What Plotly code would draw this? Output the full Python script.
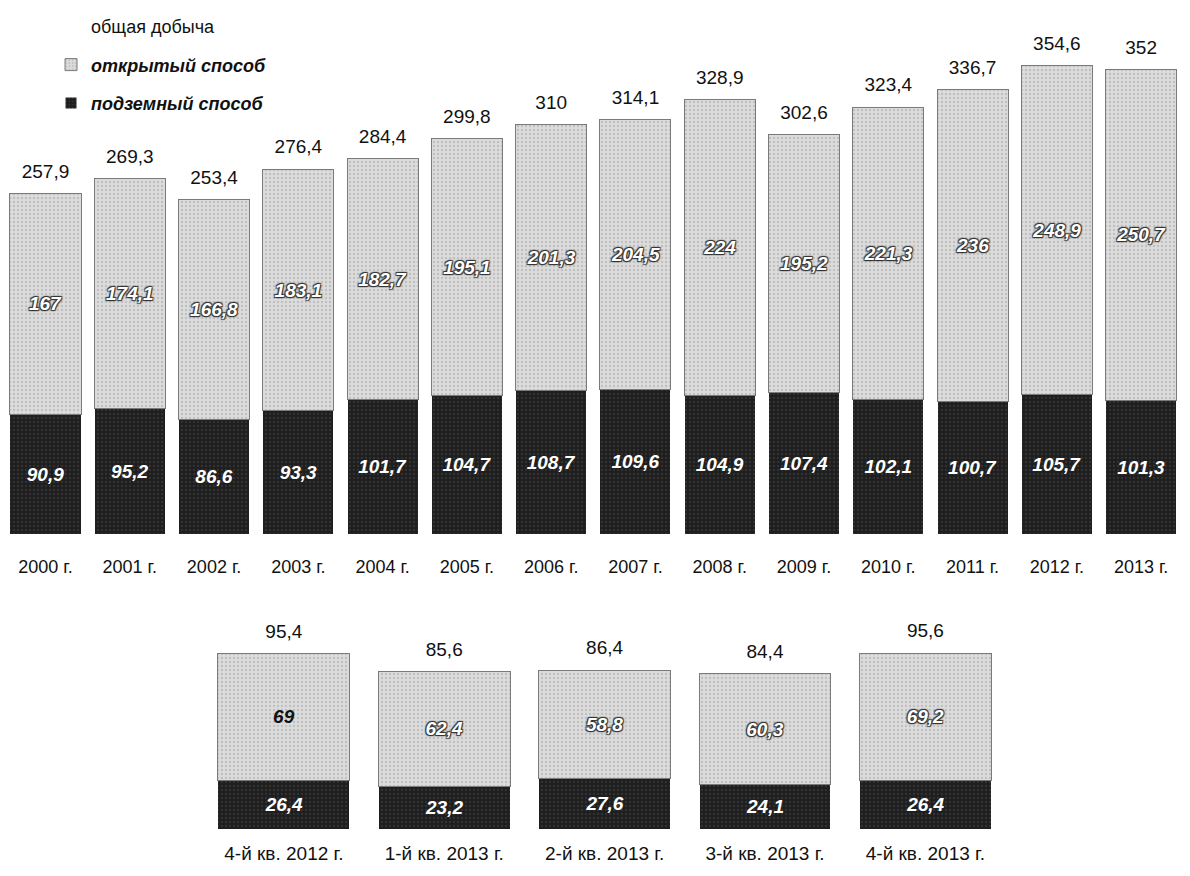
import plotly.graph_objects as go

years = ["2000 г.", "2001 г.", "2002 г.", "2003 г.", "2004 г.", "2005 г.", "2006 г.",
         "2007 г.", "2008 г.", "2009 г.", "2010 г.", "2011 г.", "2012 г.", "2013 г."]
open_years = [167, 174.1, 166.8, 183.1, 182.7, 195.1, 201.3, 204.5, 224, 195.2, 221.3, 236, 248.9, 250.7]
under_years = [90.9, 95.2, 86.6, 93.3, 101.7, 104.7, 108.7, 109.6, 104.9, 107.4, 102.1, 100.7, 105.7, 101.3]
total_years = [257.9, 269.3, 253.4, 276.4, 284.4, 299.8, 310, 314.1, 328.9, 302.6, 323.4, 336.7, 354.6, 352]

quarters = ["4-й кв. 2012 г.", "1-й кв. 2013 г.", "2-й кв. 2013 г.", "3-й кв. 2013 г.", "4-й кв. 2013 г."]
open_q = [69, 62.4, 58.8, 60.3, 69.2]
under_q = [26.4, 23.2, 27.6, 24.1, 26.4]
total_q = [95.4, 85.6, 86.4, 84.4, 95.6]

name_total = "общая добыча"
name_open = "<b><i>открытый способ</i></b>"
name_under = "<b><i>подземный способ</i></b>"

FONT = "Liberation Sans, Arial, sans-serif"
LIGHT = "#d3d3d3"
DARK = "#1e1e1e"

def fmt(v):
    s = ("%.1f" % v).rstrip("0").rstrip(".")
    return s.replace(".", ",")

fig = go.Figure()

def add_set(cats, under, opn, tot, xa, ya, show, bw, open_colors, open_shadows):
    fig.add_trace(go.Bar(
        x=cats, y=under, name=name_under, xaxis=xa, yaxis=ya, width=bw,
        legendgroup="u", legendrank=3, showlegend=show,
        marker=dict(color=DARK, line=dict(color="white", width=1),
                    pattern=dict(shape=".", fgcolor="#484848", bgcolor=DARK, size=4, solidity=0.25)),
        text=[fmt(v) for v in under], textposition="inside", insidetextanchor="middle",
        textangle=0, constraintext="none",
        textfont=dict(family=FONT, size=19, color="white", weight="bold", style="italic"),
        hoverinfo="skip",
    ))
    fig.add_trace(go.Bar(
        x=cats, y=opn, name=name_open, xaxis=xa, yaxis=ya, width=bw,
        legendgroup="o", legendrank=2, showlegend=show,
        marker=dict(color=LIGHT, line=dict(color="#7a7a7a", width=1),
                    pattern=dict(shape=".", fgcolor="#a4a4a4", bgcolor="#dcdcdc", size=4, solidity=0.3)),
        text=[fmt(v) for v in opn], textposition="inside", insidetextanchor="middle",
        textangle=0, constraintext="none",
        textfont=dict(family=FONT, size=19, color=open_colors, weight="bold", style="italic",
                      shadow=open_shadows),
        hoverinfo="skip",
    ))
    fig.add_trace(go.Scatter(
        x=cats, y=tot, name=name_total, xaxis=xa, yaxis=ya,
        legendgroup="t", legendrank=1, showlegend=show,
        mode="markers+text", marker=dict(size=16, color="rgba(0,0,0,0)"),
        text=[fmt(v) for v in tot], textposition="top center", cliponaxis=False,
        textfont=dict(family=FONT, size=19, color="#111"),
        hoverinfo="skip",
    ))

sh = "1px 1px 1px #333, -1px -1px 1px #333, 1px -1px 1px #333, -1px 1px 1px #333"
add_set(years, under_years, open_years, total_years, "x", "y", True, 0.843,
        ["white"] * len(years), [sh] * len(years))
add_set(quarters, under_q, open_q, total_q, "x2", "y2", False, 0.823,
        ["#111"] + ["white"] * 4, ["none"] + [sh] * 4)

fig.update_layout(
    width=1182, height=868,
    margin=dict(l=0, r=0, t=0, b=0),
    paper_bgcolor="white", plot_bgcolor="white",
    barmode="stack",
    font=dict(family=FONT, size=18, color="#111"),
    showlegend=True,
    legend=dict(x=0.0364, y=1.0, xanchor="left", yanchor="top",
                bgcolor="rgba(0,0,0,0)", font=dict(family=FONT, size=18, color="#111"),
                traceorder="grouped", tracegroupgap=12, itemwidth=30),
    xaxis=dict(domain=[0, 1], range=[-0.445, 13.58], showgrid=False, zeroline=False, showline=False,
               ticks="", ticklabelstandoff=20, tickfont=dict(family=FONT, size=18, color="#111"),
               anchor="y", automargin=False),
    yaxis=dict(domain=[0.394, 1.0], range=[0, 398.5], visible=False, anchor="x"),
    xaxis2=dict(domain=[0, 1], range=[-1.72, 5.65], showgrid=False, zeroline=False, showline=False,
                ticks="", ticklabelstandoff=11, tickfont=dict(family=FONT, size=19, color="#111"),
                anchor="y2", automargin=False),
    yaxis2=dict(domain=[0.0541, 0.318], range=[0, 124.5], visible=False, anchor="x2"),
)

fig.write_html("out.html")
